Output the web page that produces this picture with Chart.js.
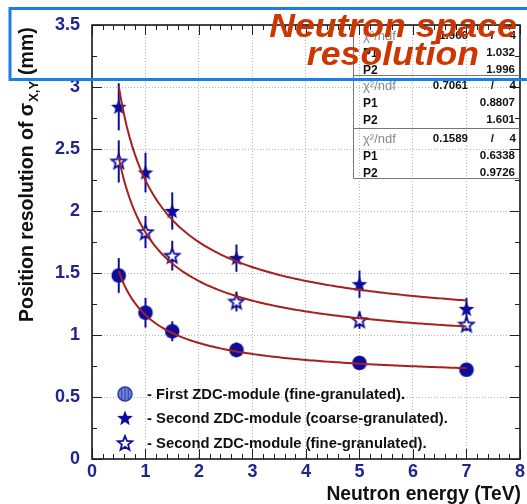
<!DOCTYPE html>
<html>
<head>
<meta charset="utf-8">
<script src="https://cdn.jsdelivr.net/npm/chart.js@4.4.1/dist/chart.umd.min.js"></script>
<style>
  html, body { margin: 0; padding: 0; background: #fff; }
  #wrap { position: relative; width: 527px; height: 504px; }
</style>
</head>
<body>
<div id="wrap"><canvas id="c" width="527" height="504"></canvas></div>
<script>
// Neutron energies (TeV) at which the modules were tested
const energies = [0.5, 1, 1.5, 2.7, 5, 7];

// Measured position resolution (mm) and errors
const firstFine = [1.48, 1.18, 1.03, 0.88, 0.775, 0.72];
const firstFineErr = [0.14, 0.12, 0.08, 0.06, 0.04, 0.03];
const secondCoarse = [2.84, 2.31, 2.00, 1.62, 1.41, 1.21];
const secondCoarseErr = [0.19, 0.16, 0.15, 0.11, 0.11, 0.09];
const secondFine = [2.40, 1.83, 1.64, 1.27, 1.12, 1.085];
const secondFineErr = [0.17, 0.13, 0.12, 0.08, 0.07, 0.05];

// Fit results, sigma(E) = sqrt(P1^2 + P2^2 / E); order: coarse, second fine, first fine
const fitChi2 = ['1.966', '0.7061', '0.1589'];
const fitNdf = [4, 4, 4];
const fitP1 = [1.032, 0.8807, 0.6338];
const fitP2 = [1.996, 1.601, 0.9726];

const xTicks = [0, 1, 2, 3, 4, 5, 6, 7, 8];
const yTicks = [0, 0.5, 1, 1.5, 2, 2.5, 3, 3.5];

const legendLabels = [
  '- First ZDC-module (fine-granulated).',
  '- Second ZDC-module (coarse-granulated).',
  '- Second ZDC-module (fine-granulated).'
];

const BLUE = '#0d0d9c';
const FIT = '#a3201c';
const FONT = '"Liberation Sans", Arial, Helvetica, sans-serif';

function fitCurve(p1, p2) {
  const pts = [];
  for (let i = 0; i <= 130; i++) {
    const e = 0.5 + i * 0.05;
    pts.push({ x: e, y: Math.sqrt(p1 * p1 + p2 * p2 / e) });
  }
  return pts;
}

function starPath(ctx, cx, cy, R, r) {
  ctx.beginPath();
  for (let i = 0; i < 10; i++) {
    const a = -Math.PI / 2 + i * Math.PI / 5;
    const rad = i % 2 === 0 ? R : r;
    const x = cx + rad * Math.cos(a), y = cy + rad * Math.sin(a);
    if (i === 0) ctx.moveTo(x, y); else ctx.lineTo(x, y);
  }
  ctx.closePath();
}

function makeMarker(kind) {
  const cv = document.createElement('canvas');
  cv.width = 20; cv.height = 20;
  const g = cv.getContext('2d');
  if (kind === 'circle') {
    g.beginPath(); g.arc(10, 10, 7.3, 0, Math.PI * 2);
    g.fillStyle = BLUE; g.fill();
  } else if (kind === 'star') {
    starPath(g, 10, 10.6, 8.2, 3.5);
    g.fillStyle = BLUE; g.fill();
  } else {
    starPath(g, 10, 10.6, 7.6, 3.3);
    g.fillStyle = '#fff'; g.fill();
    g.lineWidth = 1.8; g.strokeStyle = BLUE; g.stroke();
  }
  return cv;
}

const mCircle = makeMarker('circle');
const mStar = makeMarker('star');
const mOpen = makeMarker('open');

function pts(vals) { return energies.map((e, i) => ({ x: e, y: vals[i] })); }

const errorSets = [
  { vals: firstFine, err: firstFineErr },
  { vals: secondCoarse, err: secondCoarseErr },
  { vals: secondFine, err: secondFineErr }
];

const framePlugin = {
  id: 'frame',
  beforeDatasetsDraw(chart) {
    const { ctx, scales: { x, y } } = chart;
    ctx.save();
    ctx.strokeStyle = BLUE;
    ctx.lineWidth = 2;
    errorSets.forEach(s => {
      energies.forEach((e, i) => {
        const px = x.getPixelForValue(e);
        ctx.beginPath();
        ctx.moveTo(px, y.getPixelForValue(s.vals[i] + s.err[i]));
        ctx.lineTo(px, y.getPixelForValue(s.vals[i] - s.err[i]));
        ctx.stroke();
      });
    });
    ctx.restore();
  },
  afterDraw(chart) {
    const { ctx, chartArea: a, scales: { x, y } } = chart;
    ctx.save();
    // ticks inside the frame
    ctx.strokeStyle = '#222';
    ctx.lineWidth = 1;
    for (let v = 0; v <= 8.0001; v += 0.2) {
      const major = Math.abs(v - Math.round(v)) < 1e-6;
      const px = Math.round(x.getPixelForValue(v)) + 0.5;
      const len = major ? 10 : 5;
      ctx.beginPath(); ctx.moveTo(px, a.bottom); ctx.lineTo(px, a.bottom - len); ctx.stroke();
      ctx.beginPath(); ctx.moveTo(px, a.top); ctx.lineTo(px, a.top + len); ctx.stroke();
    }
    for (let v = 0; v <= 3.5001; v += 0.25) {
      const major = Math.abs(v * 2 - Math.round(v * 2)) < 1e-6;
      const py = Math.round(y.getPixelForValue(v)) + 0.5;
      const len = major ? 10 : 5;
      ctx.beginPath(); ctx.moveTo(a.left, py); ctx.lineTo(a.left + len, py); ctx.stroke();
      ctx.beginPath(); ctx.moveTo(a.right, py); ctx.lineTo(a.right - len, py); ctx.stroke();
    }
    // frame
    ctx.strokeStyle = '#1a1a1a';
    ctx.lineWidth = 1.6;
    ctx.strokeRect(a.left, a.top, a.right - a.left, a.bottom - a.top);

    // fit statistics box
    const bx = 353, bTop = a.top, rows = [75, 128, 178];
    ctx.strokeStyle = '#777';
    ctx.lineWidth = 1;
    ctx.beginPath();
    ctx.moveTo(bx + 0.5, bTop); ctx.lineTo(bx + 0.5, rows[2] + 0.5);
    ctx.lineTo(a.right, rows[2] + 0.5);
    ctx.moveTo(bx, rows[0] + 0.5); ctx.lineTo(a.right, rows[0] + 0.5);
    ctx.moveTo(bx, rows[1] + 0.5); ctx.lineTo(a.right, rows[1] + 0.5);
    ctx.stroke();
    const tops = [bTop, rows[0], rows[1]];
    for (let k = 0; k < 3; k++) {
      const t = tops[k];
      ctx.textBaseline = 'alphabetic';
      ctx.textAlign = 'left';
      ctx.fillStyle = '#8a8a8a';
      ctx.font = '13px ' + FONT;
      ctx.fillText('\u03C7\u00B2/ndf', 363, t + 15);
      ctx.fillStyle = '#111';
      ctx.font = 'bold 12px ' + FONT;
      ctx.fillText('P1', 363, t + 32);
      ctx.fillText('P2', 363, t + 49);
      ctx.textAlign = 'right';
      ctx.font = 'bold 11.5px ' + FONT;
      ctx.fillText(fitChi2[k], 468, t + 14);
      ctx.fillText('/', 494, t + 14);
      ctx.fillText(String(fitNdf[k]), 516, t + 14);
      ctx.fillText(String(fitP1[k]), 515, t + 31);
      ctx.fillText(String(fitP2[k]), 515, t + 48);
    }

    // legend inside the frame
    const lx = 125, ly = [394, 418, 443];
    // first module marker: shaded circle
    ctx.beginPath(); ctx.arc(lx, ly[0], 7, 0, Math.PI * 2);
    ctx.fillStyle = '#6f7fd6'; ctx.fill();
    ctx.lineWidth = 1.5; ctx.strokeStyle = '#2a3aa8'; ctx.stroke();
    ctx.beginPath(); ctx.moveTo(lx, ly[0] - 6.5); ctx.lineTo(lx, ly[0] + 6.5);
    ctx.moveTo(lx - 3.3, ly[0] - 5.5); ctx.lineTo(lx - 3.3, ly[0] + 5.5);
    ctx.moveTo(lx + 3.3, ly[0] - 5.5); ctx.lineTo(lx + 3.3, ly[0] + 5.5);
    ctx.lineWidth = 1; ctx.strokeStyle = '#3444ae'; ctx.stroke();
    ctx.drawImage(mStar, lx - 10, ly[1] - 10);
    ctx.drawImage(mOpen, lx - 10, ly[2] - 10);
    ctx.fillStyle = '#111';
    ctx.font = 'bold 14.8px ' + FONT;
    ctx.textAlign = 'left';
    ctx.textBaseline = 'middle';
    legendLabels.forEach((s, i) => ctx.fillText(s, 147, ly[i] + 1));

    // axis titles
    ctx.fillStyle = '#111';
    ctx.font = 'bold 19.3px ' + FONT;
    ctx.textAlign = 'right';
    ctx.textBaseline = 'alphabetic';
    ctx.fillText('Neutron energy (TeV)', 521, 500);

    ctx.save();
    ctx.translate(33, 322);
    ctx.rotate(-Math.PI / 2);
    ctx.textAlign = 'left';
    ctx.font = 'bold 19.5px ' + FONT;
    let cx = 0;
    const s1 = 'Position resolution of \u03C3';
    ctx.fillText(s1, cx, 0); cx += ctx.measureText(s1).width;
    ctx.font = 'bold 13px ' + FONT;
    ctx.fillText('X,Y', cx + 1, 5); cx += ctx.measureText('X,Y').width + 7;
    ctx.font = 'bold 19.5px ' + FONT;
    ctx.fillText('(mm)', cx, 0);
    ctx.restore();

    // title annotation
    ctx.fillStyle = '#cc3600';
    ctx.font = 'italic bold 33px ' + FONT;
    ctx.textAlign = 'center';
    ctx.save();
    ctx.translate(393, 0);
    ctx.scale(1.08, 1);
    ctx.fillText('Neutron space', 0, 37);
    ctx.fillText('resolution', 0, 65);
    ctx.restore();
    ctx.strokeStyle = '#1b7de6';
    ctx.lineWidth = 3;
    ctx.strokeRect(10, 8.5, 530, 71);
    ctx.restore();
  }
};

new Chart(document.getElementById('c'), {
  type: 'scatter',
  data: {
    datasets: [
      { type: 'line', data: fitCurve(fitP1[0], fitP2[0]), borderColor: FIT, borderWidth: 2, pointRadius: 0, fill: false, tension: 0, order: 0 },
      { type: 'line', data: fitCurve(fitP1[1], fitP2[1]), borderColor: FIT, borderWidth: 2, pointRadius: 0, fill: false, tension: 0, order: 0 },
      { type: 'line', data: fitCurve(fitP1[2], fitP2[2]), borderColor: FIT, borderWidth: 2, pointRadius: 0, fill: false, tension: 0, order: 0 },
      { data: pts(firstFine), pointStyle: mCircle, order: 1 },
      { data: pts(secondCoarse), pointStyle: mStar, order: 1 },
      { data: pts(secondFine), pointStyle: mOpen, order: 1 }
    ]
  },
  options: {
    responsive: false,
    animation: false,
    events: [],
    layout: { padding: { left: 0, right: 6, top: 25, bottom: 0 } },
    plugins: { legend: { display: false }, tooltip: { enabled: false } },
    scales: {
      x: {
        type: 'linear', min: 0, max: 8,
        afterFit(s) { s.height = 45; },
        afterBuildTicks(s) { s.ticks = xTicks.map(v => ({ value: v })); },
        ticks: { color: '#24248f', font: { family: FONT, size: 18, weight: 'bold' }, padding: 2, maxRotation: 0, callback: v => String(v) },
        grid: { color: '#b4b4b4', lineWidth: 1, drawTicks: false },
        border: { display: false, dash: [1, 2] }
      },
      y: {
        type: 'linear', min: 0, max: 3.5,
        afterFit(s) { s.width = 92; },
        afterBuildTicks(s) { s.ticks = yTicks.map(v => ({ value: v })); },
        ticks: { color: '#24248f', font: { family: FONT, size: 18, weight: 'bold' }, padding: 12, callback: v => String(v) },
        grid: { color: '#b4b4b4', lineWidth: 1, drawTicks: false },
        border: { display: false, dash: [1, 2] }
      }
    }
  },
  plugins: [framePlugin]
});
</script>
</body>
</html>
